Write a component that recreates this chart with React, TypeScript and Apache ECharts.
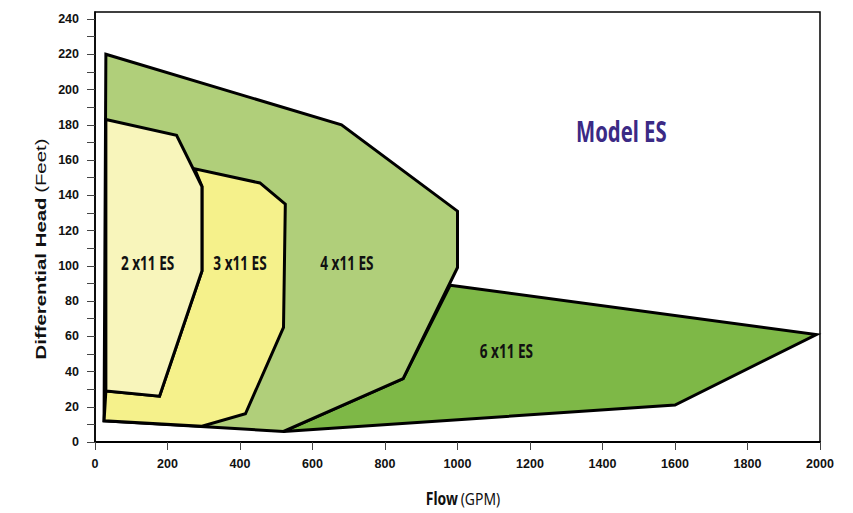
import React, { useEffect, useRef } from "react";
import * as echarts from "echarts";

// Axis ticks
const FLOW_MAX = 2000;
const HEAD_MAX = 244;
const HEAD_LABELS = [0, 20, 40, 60, 80, 100, 120, 140, 160, 180, 200, 220, 240];
const HEAD_TICKS = [0, 10, 20, 30, 40, 50, 60, 70, 80, 90, 100, 110, 120, 130, 140, 150, 160, 170, 180, 190, 200, 210, 220, 230, 240];

// Pump coverage polygons (Flow GPM, Head Feet)
const pump6x11Flow = [980, 1990, 1600, 520, 850];
const pump6x11Head = [89, 61, 21, 6, 36];

const pump4x11Flow = [30, 680, 1000, 1000, 850, 520, 25];
const pump4x11Head = [220, 180, 131, 99, 36, 6, 12];

const pump3x11Flow = [30, 178, 295, 295, 275, 455, 525, 520, 415, 295, 25];
const pump3x11Head = [29, 26, 97, 145, 155, 147, 135, 65, 16, 9, 12];

const pump2x11Flow = [30, 225, 295, 295, 178, 30];
const pump2x11Head = [183, 174, 145, 97, 26, 29];

// Region labels
const regionNames = ["6 x11 ES", "4 x11 ES", "3 x11 ES", "2 x11 ES"];
const labelFlow = [1135, 695, 400, 145];
const labelHead = [52, 102, 102, 102];

const COLORS = ["#7eb847", "#b0cf7a", "#f5f18b", "#f8f5bb"];

export default function App() {
  const ref = useRef<HTMLDivElement>(null);

  useEffect(() => {
    if (!ref.current) return;
    const chart = echarts.init(ref.current, null, { renderer: "svg" });

    const polygonSeries = (idx: number, flows: number[], heads: number[]) => ({
      type: "custom",
      name: regionNames[idx],
      data: flows.map((f, i) => [f, heads[i]]),
      encode: { x: 0, y: 1 },
      silent: true,
      renderItem: (params: any, api: any) => {
        if (params.dataIndex !== 0) return null;
        const pts = flows.map((f, i) => api.coord([f, heads[i]]));
        const lp = api.coord([labelFlow[idx], labelHead[idx]]);
        return {
          type: "group",
          children: [
            {
              type: "polygon",
              shape: { points: pts },
              style: { fill: COLORS[idx], stroke: "#000", lineWidth: 3, lineJoin: "miter" },
            },
            {
              type: "text",
              x: lp[0],
              y: lp[1],
              scaleX: 0.68,
              style: {
                text: regionNames[idx],
                fill: "#111",
                fontSize: 20,
                fontWeight: "bold",
                fontFamily: "'Noto Sans', sans-serif",
                align: "center",
                verticalAlign: "middle",
              },
            },
          ],
        };
      },
    });

    const tickFont = "'Liberation Sans Narrow', 'Arial Narrow', 'Liberation Sans', Arial, sans-serif";

    chart.setOption({
      animation: false,
      backgroundColor: "#ffffff",
      grid: {
        left: 95,
        right: 33,
        top: 12,
        bottom: 71,
        show: true,
        borderColor: "#000",
        borderWidth: 1.5,
        backgroundColor: "transparent",
      },
      xAxis: {
        type: "value",
        min: 0,
        max: FLOW_MAX,
        interval: 200,
        axisLine: { show: true, onZero: false, lineStyle: { color: "#000", width: 2 } },
        axisTick: { show: true, inside: false, length: 8, lineStyle: { color: "#444", width: 1 } },
        axisLabel: {
          margin: 15,
          color: "#111",
          fontSize: 12.5,
          fontWeight: "bold",
          fontFamily: tickFont,
          formatter: (v: number) => String(v),
        },
        splitLine: { show: false },
      },
      yAxis: {
        type: "value",
        min: 0,
        max: HEAD_MAX,
        interval: 20,
        axisLine: { show: true, onZero: false, lineStyle: { color: "#000", width: 1.5 } },
        axisTick: {
          show: true,
          inside: false,
          length: 8,
          customValues: HEAD_TICKS,
          lineStyle: { color: "#444", width: 1 },
        },
        axisLabel: {
          margin: 16,
          customValues: HEAD_LABELS,
          color: "#111",
          fontSize: 12.5,
          fontWeight: "bold",
          fontFamily: tickFont,
          formatter: (v: number) => String(v),
        },
        splitLine: { show: false },
      },
      graphic: [
        {
          type: "text",
          left: 576,
          top: 116,
          scaleX: 0.7,
          style: {
            text: "Model ES",
            fill: "#3b2a85",
            fontSize: 29,
            fontWeight: "bold",
            fontFamily: "'Noto Sans', sans-serif",
          },
        },
        {
          type: "text",
          x: 463,
          y: 498,
          scaleX: 0.82,
          style: {
            text: "{b|Flow} {n|(GPM)}",
            align: "center",
            verticalAlign: "middle",
            rich: {
              b: { fontSize: 17, fontWeight: "bold", fontFamily: "'Noto Sans', sans-serif", fill: "#111" },
              n: { fontSize: 17, fontWeight: "normal", fontFamily: "'Noto Sans', sans-serif", fill: "#111" },
            },
          },
        },
        {
          type: "text",
          x: 41,
          y: 249,
          rotation: Math.PI / 2,
          scaleX: 1.36,
          style: {
            text: "{b|Differential Head} {n|(Feet)}",
            align: "center",
            verticalAlign: "middle",
            rich: {
              b: { fontSize: 15, fontWeight: "bold", fontFamily: "'Liberation Sans', Arial, sans-serif", fill: "#111" },
              n: { fontSize: 15, fontWeight: "normal", fontFamily: "'Liberation Sans', Arial, sans-serif", fill: "#111" },
            },
          },
        },
      ],
      series: [
        polygonSeries(0, pump6x11Flow, pump6x11Head),
        polygonSeries(1, pump4x11Flow, pump4x11Head),
        polygonSeries(2, pump3x11Flow, pump3x11Head),
        polygonSeries(3, pump2x11Flow, pump2x11Head),
      ],
    });

    return () => chart.dispose();
  }, []);

  return (
    <div
      ref={ref}
      style={{ position: "fixed", left: 0, top: 0, width: 853, height: 513, background: "#fff" }}
    />
  );
}
